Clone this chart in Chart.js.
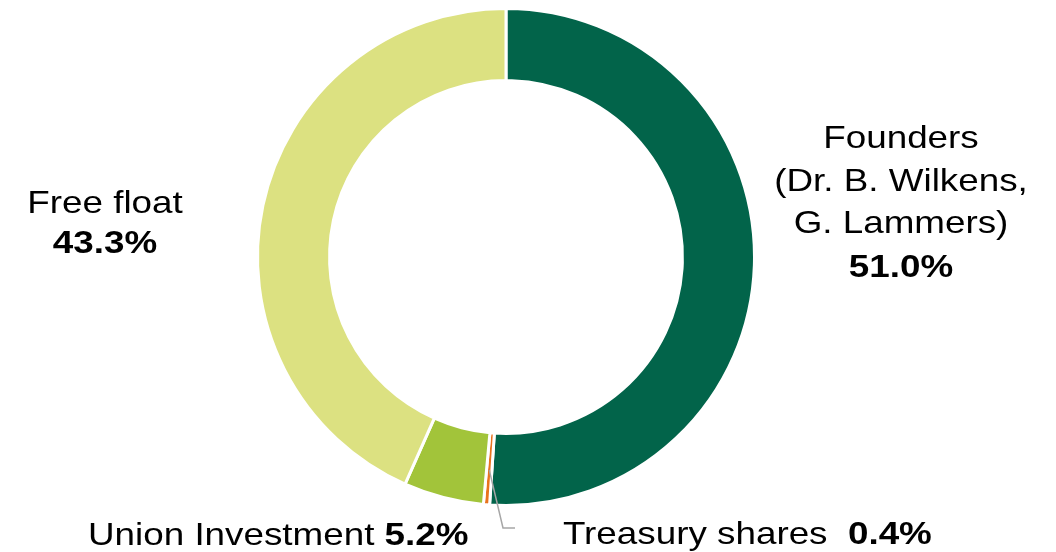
<!DOCTYPE html>
<html>
<head>
<meta charset="utf-8">
<script src="https://cdn.jsdelivr.net/npm/chart.js@4"></script>
<style>
  html, body { margin: 0; padding: 0; background: #fff; }
  #wrap { width: 1056px; height: 552px; }
</style>
</head>
<body>
<div id="wrap"><canvas id="shareholders"></canvas></div>
<script>
var labels = ["Founders (Dr. B. Wilkens, G. Lammers)", "Treasury shares", "Union Investment", "Free float"];
var shares = [51.0, 0.4, 5.2, 43.3];
var colors = ["#02644A", "#E8731E", "#A2C43A", "#DCE181"];

var FONT = '32px "Liberation Sans", Arial, sans-serif';
var BOLD = 'bold 32px "Liberation Sans", Arial, sans-serif';
var STRETCH = 1.15; // reference text is a bit wider than Liberation Sans

// draws a row of [text, font] parts; align 'left' or 'center'
function drawParts(ctx, parts, x, y, align){
  var total = 0;
  parts.forEach(function(p){ ctx.font = p[1]; total += ctx.measureText(p[0]).width; });
  var sx = align === 'center' ? x / STRETCH - total / 2 : x / STRETCH;
  parts.forEach(function(p){
    ctx.font = p[1];
    ctx.fillText(p[0], sx, y);
    sx += ctx.measureText(p[0]).width;
  });
}

var labelPlugin = {
  id: 'shareLabels',
  afterDraw: function(chart){
    var ctx = chart.ctx;
    var meta = chart.getDatasetMeta(0);
    var cx = meta.data[0].x, cy = meta.data[0].y;

    // leader line for the thin slice
    var arc = meta.data[1];
    var mid = (arc.startAngle + arc.endAngle) / 2;
    var r = arc.outerRadius - 35;
    ctx.save();
    ctx.strokeStyle = '#A6A6A6';
    ctx.lineWidth = 1.5;
    ctx.beginPath();
    ctx.moveTo(cx + Math.cos(mid) * r, cy + Math.sin(mid) * r);
    ctx.lineTo(cx - 3, cy + 271);
    ctx.lineTo(cx + 9, cy + 271);
    ctx.stroke();
    ctx.restore();

    ctx.save();
    ctx.scale(STRETCH, 1);
    ctx.fillStyle = '#000';
    ctx.textAlign = 'left';
    ctx.textBaseline = 'alphabetic';

    drawParts(ctx, [['Founders', FONT]], cx + 395, cy - 109, 'center');
    drawParts(ctx, [['(Dr. B. Wilkens,', FONT]], cx + 395, cy - 66, 'center');
    drawParts(ctx, [['G. Lammers)', FONT]], cx + 395, cy - 24, 'center');
    drawParts(ctx, [[shares[0].toFixed(1) + '%', BOLD]], cx + 395, cy + 20, 'center');

    drawParts(ctx, [['Free float', FONT]], cx - 401, cy - 44, 'center');
    drawParts(ctx, [[shares[3].toFixed(1) + '%', BOLD]], cx - 401, cy - 4, 'center');

    drawParts(ctx, [['Union Investment ', FONT], [shares[2].toFixed(1) + '%', BOLD]], cx - 418, cy + 288, 'left');
    drawParts(ctx, [['Treasury shares  ', FONT], [shares[1].toFixed(1) + '%', BOLD]], cx + 57, cy + 287, 'left');
    ctx.restore();
  }
};

new Chart(document.getElementById('shareholders'), {
  type: 'doughnut',
  data: {
    labels: labels,
    datasets: [{
      data: shares,
      backgroundColor: colors,
      borderColor: '#fff',
      borderWidth: 3
    }]
  },
  options: {
    responsive: true,
    maintainAspectRatio: false,
    animation: false,
    cutout: '71%',
    layout: { padding: { left: 256, right: 300, top: 7, bottom: 45 } },
    plugins: {
      legend: { display: false },
      tooltip: { enabled: false }
    }
  },
  plugins: [labelPlugin]
});
</script>
</body>
</html>
